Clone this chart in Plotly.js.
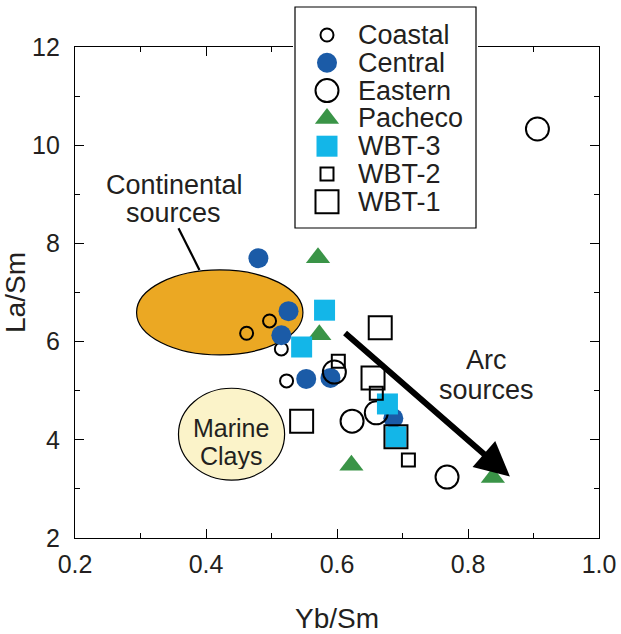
<!DOCTYPE html>
<html>
<head>
<meta charset="utf-8">
<script src="https://cdn.plot.ly/plotly-3.0.1.min.js"></script>
<style>html,body{margin:0;padding:0;background:#fff;}</style>
</head>
<body>
<div id="chart" style="width:621px;height:634px;"></div>
<script>
// ---- Data (Yb/Sm, La/Sm) ----
const coastalX = [0.462, 0.497, 0.515, 0.523];
const coastalY = [6.17, 6.42, 5.85, 5.20];
const centralX = [0.480, 0.526, 0.515, 0.553, 0.590, 0.686];
const centralY = [7.70, 6.62, 6.13, 5.24, 5.26, 4.44];
const easternX = [0.906, 0.596, 0.623, 0.660, 0.768];
const easternY = [10.33, 5.38, 4.38, 4.55, 3.24];
const pachecoX = [0.571, 0.573, 0.622, 0.838];
const pachecoY = [7.71, 6.14, 3.48, 3.23];
const wbt3X = [0.581, 0.546, 0.677, 0.690];
const wbt3Y = [6.64, 5.89, 4.73, 4.06];
const wbt2X = [0.602, 0.660, 0.709];
const wbt2Y = [5.60, 4.95, 3.59];
const wbt1X = [0.666, 0.655, 0.546, 0.690];
const wbt1Y = [6.28, 5.26, 4.38, 4.06];

const seriesNames = ["Coastal", "Central", "Eastern", "Pacheco", "WBT-3", "WBT-2", "WBT-1"];
const xTickVals = [0.2, 0.4, 0.6, 0.8, 1.0];
const xTickText = ["0.2", "0.4", "0.6", "0.8", "1.0"];
const yTickVals = [2, 4, 6, 8, 10, 12];
const yTickText = ["2", "4", "6", "8", "10", "12"];

// ---- Field regions & annotations (Yb/Sm, La/Sm) ----
const continentalField = {x0: 0.294, x1: 0.548, y0: 5.73, y1: 7.46};
const marineField = {x0: 0.358, x1: 0.520, y0: 3.18, y1: 5.05};
const continentalLeader = {x0: 0.358, y0: 8.31, x1: 0.390, y1: 7.46};
const arcArrow = {x0: 0.610, y0: 6.20, x1: 0.864, y1: 3.25};

const FONT = "'Liberation Sans', Arial, Helvetica, sans-serif";
const TXT = "#231f20";

const markerStyles = [
  {symbol: "circle-open", size: 13, color: "#000", line: {width: 2, color: "#000"}},
  {symbol: "circle", size: 20, color: "#1b5ba7", line: {width: 0}},
  {symbol: "circle-open", size: 23, color: "#000", line: {width: 2, color: "#000"}},
  {symbol: "triangle-up", size: 21, color: "#3a9447", line: {width: 0}},
  {symbol: "square", size: 21, color: "#13b6e8", line: {width: 0}},
  {symbol: "square-open", size: 13, color: "#000", line: {width: 2, color: "#000"}},
  {symbol: "square-open", size: 23, color: "#000", line: {width: 2, color: "#000"}}
];
const seriesX = [coastalX, centralX, easternX, pachecoX, wbt3X, wbt2X, wbt1X];
const seriesY = [coastalY, centralY, easternY, pachecoY, wbt3Y, wbt2Y, wbt1Y];

const traces = [];
seriesNames.forEach((nm, i) => {
  traces.push({name: nm, x: seriesX[i], y: seriesY[i], type: "scatter", mode: "markers",
    marker: markerStyles[i], showlegend: false, hoverinfo: "x+y+name"});
});

// ---- Custom legend on a hidden overlay subplot (pixel-like units) ----
const legendSymX = 327, legendTextX = 357, legendRow0 = 35, legendRowStep = 27.8;
seriesNames.forEach((nm, i) => {
  traces.push({name: nm + " (legend)", x: [legendSymX], y: [legendRow0 + i * legendRowStep],
    xaxis: "x2", yaxis: "y2", type: "scatter", mode: "markers",
    marker: markerStyles[i], showlegend: false, hoverinfo: "skip"});
});

const axisCommon = {
  showgrid: false, zeroline: false, showline: true, linecolor: "#000", linewidth: 1.2,
  mirror: "ticks", ticks: "inside", ticklen: 9, tickwidth: 1, tickcolor: "#000",
  tickfont: {family: FONT, size: 25, color: TXT},
  minor: {ticks: "inside", ticklen: 5, tickwidth: 1, tickcolor: "#000", showgrid: false}
};

function label(x, y, text, size, h) {
  return {xref: "x", yref: "y", x: x, y: y, text: text, showarrow: false,
    height: h, borderpad: 0, font: {family: FONT, size: size, color: TXT}};
}
const annotations = [
  label(0.3525, 9.20, "Continental", 27, 27),
  label(0.3505, 8.62, "sources", 27, 27),
  label(0.4387, 4.25, "Marine", 25, 27),
  label(0.4387, 3.68, "Clays", 25, 27),
  label(0.8277, 5.64, "Arc", 27, 27),
  label(0.8277, 5.02, "sources", 27, 27),
  {xref: "x", yref: "y", axref: "x", ayref: "y",
   x: arcArrow.x1, y: arcArrow.y1, ax: arcArrow.x0, ay: arcArrow.y0,
   text: "", showarrow: true, arrowhead: 2, arrowsize: 1.15, arrowwidth: 6, arrowcolor: "#000",
   standoff: 0, startstandoff: 0}
];
seriesNames.forEach((nm, i) => {
  annotations.push({xref: "x2", yref: "y2", x: legendTextX, y: legendRow0 + i * legendRowStep,
    xanchor: "left", yanchor: "middle", text: nm, showarrow: false, height: 26, borderpad: 0,
    font: {family: FONT, size: 27, color: TXT}});
});

const layout = {
  width: 621, height: 634,
  margin: {l: 75, r: 22, t: 5, b: 96},
  paper_bgcolor: "#fff", plot_bgcolor: "#fff",
  font: {family: FONT, color: TXT},
  showlegend: false,
  xaxis: Object.assign({}, axisCommon, {
    range: [0.2, 1.0], tickvals: xTickVals, ticktext: xTickText,
    minor: Object.assign({}, axisCommon.minor, {dtick: 0.1}),
    ticklabelstandoff: 4,
    title: {text: "Yb/Sm", font: {family: FONT, size: 28, color: TXT}}
  }),
  yaxis: Object.assign({}, axisCommon, {
    domain: [0, 0.9212],
    range: [2, 12], tickvals: yTickVals, ticktext: yTickText,
    minor: Object.assign({}, axisCommon.minor, {dtick: 1}),
    ticklabelstandoff: 9,
    title: {text: "La/Sm", font: {family: FONT, size: 28, color: TXT}}
  }),
  xaxis2: {domain: [0.41603, 0.76908], range: [293, 478], anchor: "y2", visible: false, fixedrange: true},
  yaxis2: {domain: [0.57786, 1], range: [230, 5], anchor: "x2", visible: false, fixedrange: true},
  shapes: [
    {type: "circle", xref: "x", yref: "y", layer: "below",
     x0: continentalField.x0, x1: continentalField.x1, y0: continentalField.y0, y1: continentalField.y1,
     fillcolor: "#eba823", line: {color: "#000", width: 1.2}},
    {type: "circle", xref: "x", yref: "y", layer: "below",
     x0: marineField.x0, x1: marineField.x1, y0: marineField.y0, y1: marineField.y1,
     fillcolor: "#fbf3c9", line: {color: "#000", width: 1.2}},
    {type: "line", xref: "x", yref: "y",
     x0: continentalLeader.x0, y0: continentalLeader.y0, x1: continentalLeader.x1, y1: continentalLeader.y1,
     line: {color: "#000", width: 2.2}},
    {type: "rect", xref: "x2", yref: "y2", layer: "below",
     x0: 295, x1: 476, y0: 7, y1: 228,
     fillcolor: "#fff", line: {color: "#000", width: 1.2}}
  ],
  annotations: annotations
};

Plotly.newPlot("chart", traces, layout, {displayModeBar: false, staticPlot: true});
</script>
</body>
</html>
